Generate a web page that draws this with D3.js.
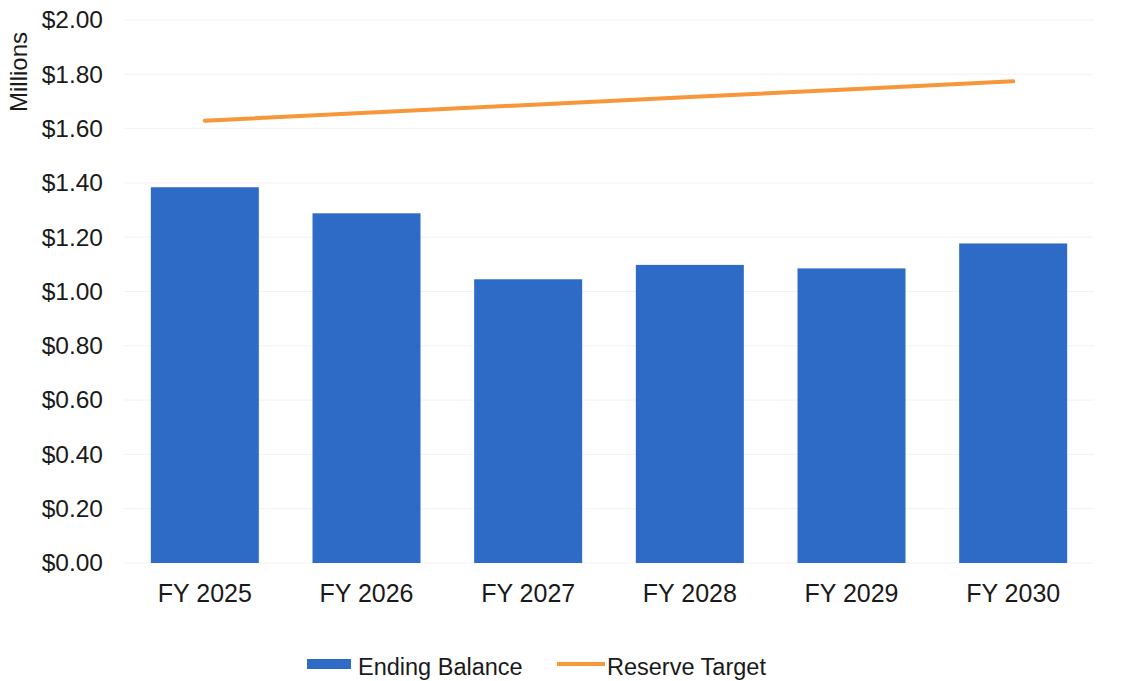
<!DOCTYPE html>
<html>
<head>
<meta charset="utf-8">
<script src="https://cdn.jsdelivr.net/npm/d3@7"></script>
<style>
  html, body { margin: 0; padding: 0; background: #fff; }
  svg { display: block; font-family: "Liberation Sans", Arial, sans-serif; }
</style>
</head>
<body>
<svg id="chart" width="1123" height="681"></svg>
<script>
// Fiscal years shown on the x axis
const years = ["FY 2025", "FY 2026", "FY 2027", "FY 2028", "FY 2029", "FY 2030"];
// Ending fund balance, millions of dollars
const endingBalance = [1.384, 1.288, 1.045, 1.098, 1.085, 1.177];
// Reserve target, millions of dollars
const reserveTarget = [1.629, 1.658, 1.687, 1.716, 1.745, 1.774];
// Y axis tick values
const yTicks = [0, 0.2, 0.4, 0.6, 0.8, 1.0, 1.2, 1.4, 1.6, 1.8, 2.0];

const barColor = "#2e6bc7";
const lineColor = "#f5973a";

const svg = d3.select("#chart");
const margin = { left: 124, right: 29, top: 20, bottom: 118 };
const W = 1123, H = 681;

const x = d3.scaleBand()
  .domain(years)
  .range([margin.left, W - margin.right])
  .paddingInner(0.332)
  .paddingOuter(0.166);

const y = d3.scaleLinear()
  .domain([0, 2])
  .range([H - margin.bottom, margin.top]);

// faint horizontal gridlines
svg.append("g")
  .selectAll("line")
  .data(yTicks)
  .join("line")
  .attr("x1", margin.left)
  .attr("x2", W - margin.right)
  .attr("y1", d => y(d))
  .attr("y2", d => y(d))
  .attr("stroke", "#f3f3f3")
  .attr("stroke-width", 1);

// y axis labels
const yAxis = d3.axisLeft(y)
  .tickValues(yTicks)
  .tickSize(0)
  .tickPadding(0)
  .tickFormat(d => "$" + d.toFixed(2));
const gy = svg.append("g")
  .attr("transform", `translate(${103},0)`)
  .call(yAxis);
gy.select(".domain").remove();
gy.selectAll("text")
  .attr("font-size", 24.5)
  .attr("fill", "#1a1a1a")
  .attr("font-family", "Liberation Sans, Arial, sans-serif");

// y axis title
svg.append("text")
  .attr("transform", `translate(27,72) rotate(-90)`)
  .attr("text-anchor", "middle")
  .attr("font-size", 24)
  .attr("fill", "#1a1a1a")
  .text("Millions");

// bars
svg.append("g")
  .selectAll("rect")
  .data(years.map((yr, i) => ({ yr, v: endingBalance[i] })))
  .join("rect")
  .attr("x", d => x(d.yr))
  .attr("width", x.bandwidth())
  .attr("y", d => y(d.v))
  .attr("height", d => y(0) - y(d.v))
  .attr("fill", barColor);

// x axis labels
const xAxis = d3.axisBottom(x).tickSize(0).tickPadding(0);
const gx = svg.append("g")
  .attr("transform", `translate(0,${y(0) + 21})`)
  .call(xAxis);
gx.select(".domain").remove();
gx.selectAll("text")
  .attr("font-size", 25)
  .attr("fill", "#1a1a1a")
  .attr("font-family", "Liberation Sans, Arial, sans-serif");

// reserve target line
const line = d3.line()
  .x((d, i) => x(years[i]) + x.bandwidth() / 2)
  .y(d => y(d));
svg.append("path")
  .datum(reserveTarget)
  .attr("d", line)
  .attr("fill", "none")
  .attr("stroke", lineColor)
  .attr("stroke-width", 4)
  .attr("stroke-linecap", "round");

// legend
const lg = svg.append("g");
lg.append("rect")
  .attr("x", 307).attr("y", 659)
  .attr("width", 44).attr("height", 10)
  .attr("fill", barColor);
lg.append("text")
  .attr("x", 358).attr("y", 675)
  .attr("font-size", 23.5)
  .attr("fill", "#1a1a1a")
  .text("Ending Balance");
lg.append("line")
  .attr("x1", 557).attr("x2", 605)
  .attr("y1", 664).attr("y2", 664)
  .attr("stroke", lineColor)
  .attr("stroke-width", 4);
lg.append("text")
  .attr("x", 607).attr("y", 675)
  .attr("font-size", 23.5)
  .attr("fill", "#1a1a1a")
  .text("Reserve Target");
</script>
</body>
</html>
